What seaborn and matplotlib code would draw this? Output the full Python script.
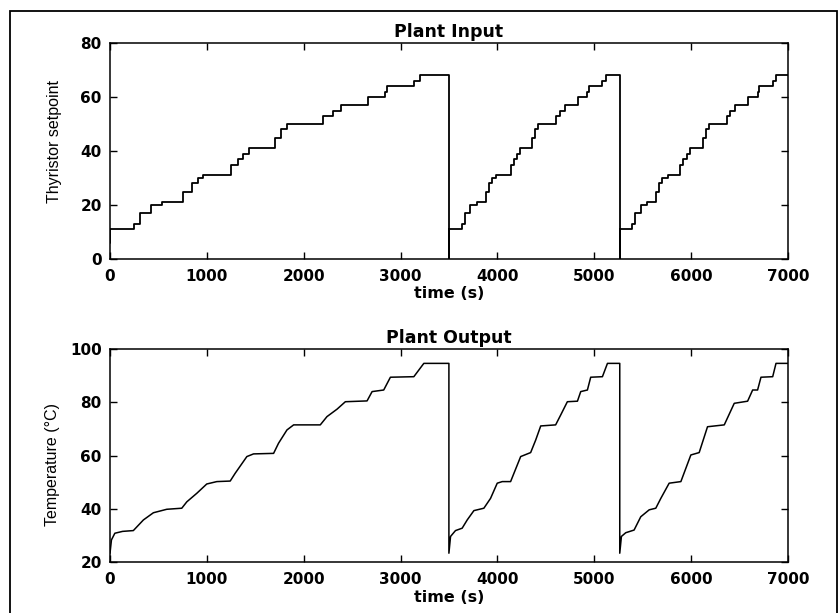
import numpy as np
import pandas as pd
import matplotlib
matplotlib.use("Agg")
import matplotlib.pyplot as plt
from matplotlib.patches import Rectangle
import seaborn as sns

# Thyristor setpoint levels, same staircase in each cycle
input_levels = [11, 12.8, 17, 20, 21, 25, 28, 30, 31, 35, 37, 39, 41,
                45, 48, 50, 53, 55, 57, 60, 62, 64, 66, 68]
# step start times (s) of each cycle
cycle1_starts = [0, 251, 310, 421, 540, 750, 843, 905, 957, 1250, 1326, 1378,
                 1430, 1706, 1765, 1827, 2200, 2300, 2380, 2666, 2839, 2863,
                 3139, 3200]
cycle2_starts = [3499, 3636, 3664, 3715, 3785, 3878, 3912, 3947, 3981, 4136,
                 4171, 4198, 4233, 4360, 4388, 4419, 4601, 4646, 4698, 4836,
                 4929, 4946, 5084, 5119]
cycle3_starts = [5263, 5394, 5422, 5480, 5542, 5635, 5670, 5704, 5756, 5887,
                 5921, 5956, 5990, 6118, 6152, 6187, 6370, 6404, 6456, 6590,
                 6686, 6704, 6842, 6876]
cycle_ends = [3499, 5263, 7000]

# Plant output temperature (t in s, T in degC)
out1_t = [0, 15, 50, 130, 241, 345, 448, 586, 741, 793, 896, 999, 1103, 1241,
          1292, 1413, 1482, 1689, 1740, 1827, 1896, 2171, 2240, 2344, 2430,
          2654, 2706, 2826, 2895, 3137, 3240, 3499]
out1_T = [23.3, 28.3, 30.8, 31.5, 31.8, 35.8, 38.5, 39.8, 40.2, 42.6, 45.8,
          49.3, 50.2, 50.4, 53.3, 59.6, 60.6, 60.8, 64.6, 69.6, 71.5, 71.5,
          74.6, 77.4, 80.2, 80.5, 84.0, 84.6, 89.4, 89.6, 94.6, 94.6]
out2_t = [3499, 3516, 3567, 3636, 3688, 3757, 3860, 3929, 3998, 4050, 4136,
          4240, 4343, 4395, 4447, 4601, 4653, 4722, 4826, 4860, 4929, 4963,
          5084, 5136, 5263]
out2_T = [23.3, 29.6, 31.8, 32.7, 35.8, 39.3, 40.2, 43.9, 49.6, 50.2, 50.2,
          59.6, 61.1, 65.8, 71.1, 71.5, 75.2, 80.2, 80.4, 84.0, 84.6, 89.4,
          89.6, 94.6, 94.6]
out3_t = [5263, 5280, 5325, 5411, 5480, 5567, 5635, 5687, 5773, 5894, 5997,
          6083, 6169, 6342, 6445, 6583, 6635, 6686, 6721, 6842, 6876, 7000]
out3_T = [23.3, 29.6, 31.0, 32.0, 37.0, 39.6, 40.2, 43.9, 49.6, 50.2, 60.2,
          61.1, 70.8, 71.5, 79.6, 80.4, 84.6, 84.6, 89.4, 89.6, 94.6, 94.6]

# build the step series: drop to 0 at the end of a cycle, then restart
in_t, in_u = [0], [6]
for starts, end in zip([cycle1_starts, cycle2_starts, cycle3_starts], cycle_ends):
    in_t += list(starts)
    in_u += input_levels
    in_t.append(end)
    in_u.append(0 if end < 7000 else input_levels[-1])
df_in = pd.DataFrame({"t": in_t, "u": in_u})
df_out = pd.DataFrame({"t": out1_t + out2_t + out3_t,
                       "T": out1_T + out2_T + out3_T})

sns.set_theme(style="ticks")
plt.rcParams['font.family'] = ['Liberation Sans', 'DejaVu Sans']
plt.rcParams['text.color'] = 'black'
plt.rcParams['axes.labelcolor'] = 'black'
BOLD = ['DejaVu Sans']

fig = plt.figure(figsize=(8.38, 6.13), dpi=100)
ax1 = fig.add_axes([110 / 838, 1 - 259 / 613, 678 / 838, 216 / 613])
ax2 = fig.add_axes([110 / 838, 1 - 562 / 613, 678 / 838, 213 / 613])

sns.lineplot(data=df_in, x="t", y="u", ax=ax1, sort=False, estimator=None,
             drawstyle="steps-post", color="black", lw=1.3)
sns.lineplot(data=df_out, x="t", y="T", ax=ax2, sort=False, estimator=None,
             color="black", lw=1.1)


def style_axes(ax, ylim, yticks, title, ylabel, ylab_x, ylab_y):
    ax.set_xlim(0, 7000)
    ax.set_ylim(*ylim)
    ax.set_xticks(range(0, 7001, 1000))
    ax.set_yticks(yticks)
    for s in ax.spines.values():
        s.set_visible(True)
        s.set_color("black")
        s.set_linewidth(1.1)
    ax.tick_params(direction="in", length=5, width=1, top=True, right=True,
                   labelsize=11, colors="black")
    ax.tick_params(axis="x", pad=7)
    ax.tick_params(axis="y", pad=6)
    for lab in ax.get_xticklabels() + ax.get_yticklabels():
        lab.set_fontweight("bold")
        lab.set_family(BOLD)
    ax.set_title(title, fontsize=12.5, fontweight="bold", family=BOLD, pad=4)
    ax.set_xlabel("time (s)", fontsize=11.5, fontweight="bold", family=BOLD,
                  labelpad=2)
    ax.set_ylabel(ylabel, fontsize=11.5)
    ax.yaxis.set_label_coords(ylab_x, ylab_y)
    ax.set_facecolor("white")


style_axes(ax1, (0, 80), [0, 20, 40, 60, 80], "Plant Input",
           "Thyristor setpoint", -0.071, 0.543)
style_axes(ax2, (20, 100), [20, 40, 60, 80, 100], "Plant Output",
           "Temperature (\u00b0C)", -0.074, 0.46)

# outer frame of the figure
fig.patches.append(Rectangle((10 / 838, -0.02), 827 / 838, 1 - 10.5 / 613 + 0.02,
                             transform=fig.transFigure, fill=False,
                             edgecolor="black", lw=1.3))

fig.savefig("out.png", dpi=100)
